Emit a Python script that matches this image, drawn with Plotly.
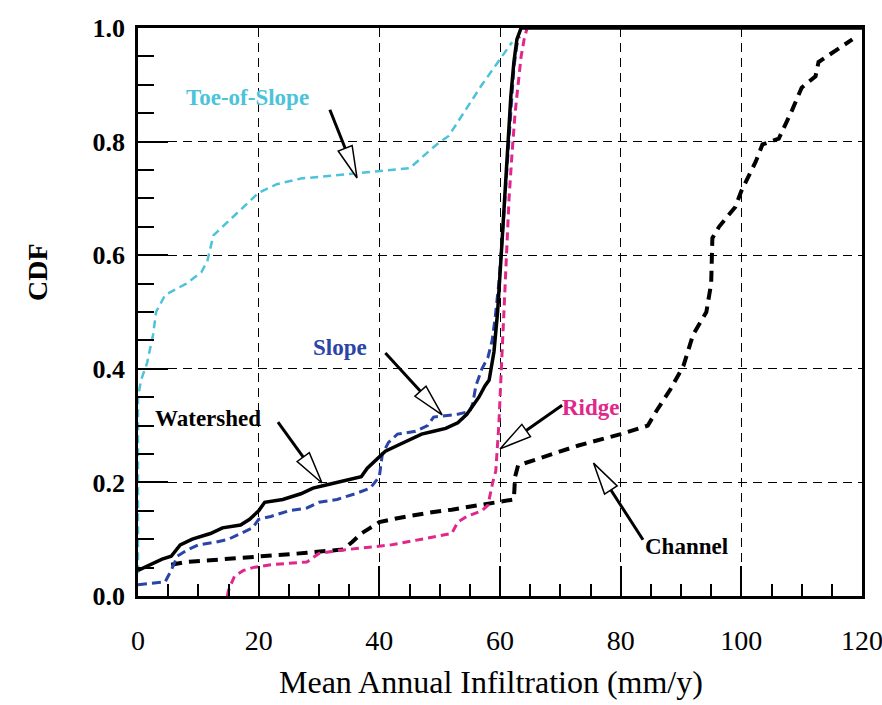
import math
import plotly.graph_objects as go

# ---------------- data ----------------
watershed_x = [0, 2, 4, 5.5, 7, 9, 12, 14, 17, 18.5, 20, 21, 24, 27, 29, 31, 33, 35, 37, 38, 39.5,
               41, 43, 45, 47, 49, 51, 53, 54.5, 55.5, 56.5, 57.5, 58.2, 59, 59.6, 60.2, 60.8,
               61.3, 61.8, 62.3, 62.8, 63.5, 120]
watershed_y = [0.045, 0.055, 0.065, 0.07, 0.09, 0.10, 0.11, 0.12, 0.125, 0.135, 0.15, 0.165, 0.17,
               0.18, 0.19, 0.195, 0.20, 0.205, 0.21, 0.225, 0.24, 0.255, 0.265, 0.275, 0.285, 0.29,
               0.295, 0.305, 0.32, 0.335, 0.35, 0.37, 0.38, 0.43, 0.5, 0.6, 0.7, 0.8, 0.88, 0.94,
               0.98, 1.0, 1.0]

slope_x = [0, 4.5, 5.5, 6.5, 8, 10, 13, 15, 17, 19, 20, 22, 25, 28, 30, 33, 36, 38.5, 40, 40.5,
           41.5, 43, 46, 48, 49, 53, 55, 55.5, 56, 57, 58, 58.7, 59.2, 59.8, 60.3, 60.8, 61.3,
           61.8, 62.3, 62.8, 63.2]
slope_y = [0.02, 0.025, 0.045, 0.07, 0.08, 0.09, 0.095, 0.10, 0.11, 0.12, 0.135, 0.14, 0.15, 0.155,
           0.165, 0.17, 0.18, 0.19, 0.21, 0.25, 0.27, 0.285, 0.29, 0.30, 0.315, 0.32, 0.325, 0.34,
           0.37, 0.40, 0.42, 0.45, 0.49, 0.55, 0.62, 0.70, 0.78, 0.86, 0.93, 0.97, 0.985]

ridge_x = [14.8, 15, 16, 17.5, 19, 22, 28, 30, 33, 38, 42, 47, 52, 53, 54.5, 57, 58, 58.8, 59.3,
           59.8, 60.2, 60.6, 61, 61.5, 62, 62.5, 63, 63.5, 64, 64.5]
ridge_y = [0.0, 0.01, 0.035, 0.045, 0.05, 0.055, 0.06, 0.075, 0.08, 0.085, 0.09, 0.10, 0.11, 0.13,
           0.14, 0.15, 0.16, 0.20, 0.22, 0.30, 0.40, 0.50, 0.60, 0.70, 0.78, 0.85, 0.90, 0.95,
           0.98, 1.0]

toe_x = [0, 0, 0.5, 1.5, 2.5, 3, 4.5, 8, 10.5, 11.5, 12.5, 15, 18, 20, 23, 27, 35, 45, 49.5,
         51.5, 57, 62]
toe_y = [0.04, 0.35, 0.38, 0.41, 0.46, 0.50, 0.53, 0.55, 0.57, 0.59, 0.635, 0.66, 0.69, 0.71,
         0.725, 0.735, 0.743, 0.753, 0.795, 0.81, 0.90, 0.975]

channel_x = [5.5, 8, 12, 16, 20, 24, 28, 32, 34, 35.5, 37, 38.5, 40, 43, 46, 49, 52, 55, 58, 61,
             62.3, 62.5, 63, 73, 80, 84.5, 86, 88.2, 90.4, 92, 94.2, 95, 95.2, 96.3, 99, 100,
             102.4, 103.5, 106.2, 108.4, 110, 112.3, 112.8, 118.4]
channel_y = [0.055, 0.06, 0.063, 0.066, 0.07, 0.072, 0.076, 0.08, 0.082, 0.095, 0.11, 0.12, 0.13,
             0.137, 0.143, 0.148, 0.152, 0.157, 0.162, 0.168, 0.17, 0.21, 0.23, 0.265, 0.285,
             0.30, 0.327, 0.363, 0.405, 0.46, 0.50, 0.55, 0.63, 0.65, 0.685, 0.713, 0.765, 0.795,
             0.805, 0.855, 0.895, 0.915, 0.94, 0.98]

x_ticks = [0, 20, 40, 60, 80, 100, 120]
y_ticks = [0.0, 0.2, 0.4, 0.6, 0.8, 1.0]

# curve labels: text, x, y, colour
label_text = ["Toe-of-Slope", "Slope", "Watershed", "Ridge", "Channel"]
label_x = [18.1, 33.5, 11.6, 75.1, 90.9]
label_y = [0.877, 0.438, 0.313, 0.331, 0.088]
label_color = ["#4cc3d9", "#2a44a8", "#000000", "#e0288c", "#000000"]

# arrows: tail -> tip
arrow_tail_x = [31.8, 41.0, 23.2, 70.3, 83.7]
arrow_tail_y = [0.856, 0.428, 0.306, 0.336, 0.099]
arrow_tip_x = [36.3, 50.4, 30.5, 60.0, 75.5]
arrow_tip_y = [0.736, 0.319, 0.199, 0.259, 0.234]

# ---------------- layout geometry ----------------
W, H = 882, 705
ML, MR, MT, MB = 138, 20, 28, 109
PW, PH = W - ML - MR, H - MT - MB
XR, YR = (0, 120), (0, 1)

FONT = "Liberation Serif, Times New Roman, serif"

fig = go.Figure()

fig.add_trace(go.Scatter(x=channel_x, y=channel_y, mode="lines", name="Channel",
                         line=dict(color="black", width=4, dash="11px,7px")))
fig.add_trace(go.Scatter(x=ridge_x, y=ridge_y, mode="lines", name="Ridge",
                         line=dict(color="#e0288c", width=3, dash="8px,5px")))
fig.add_trace(go.Scatter(x=toe_x, y=toe_y, mode="lines", name="Toe-of-Slope",
                         line=dict(color="#4cc3d9", width=2.5, dash="8px,5px")))
fig.add_trace(go.Scatter(x=slope_x, y=slope_y, mode="lines", name="Slope",
                         line=dict(color="#2a44a8", width=3, dash="9px,5px")))
fig.add_trace(go.Scatter(x=watershed_x, y=watershed_y, mode="lines", name="Watershed",
                         line=dict(color="black", width=3.5)))


def to_px(x, y):
    return (ML + (x - XR[0]) / (XR[1] - XR[0]) * PW,
            MT + (1 - (y - YR[0]) / (YR[1] - YR[0])) * PH)


def to_data(px, py):
    return (XR[0] + (px - ML) / PW * (XR[1] - XR[0]),
            YR[0] + (1 - (py - MT) / PH) * (YR[1] - YR[0]))


shapes = []
HEAD_L, HEAD_W = 32, 7.5
for tx, ty, hx, hy in zip(arrow_tail_x, arrow_tail_y, arrow_tip_x, arrow_tip_y):
    t = to_px(tx, ty)
    p = to_px(hx, hy)
    dx, dy = p[0] - t[0], p[1] - t[1]
    n = math.hypot(dx, dy)
    ux, uy = dx / n, dy / n
    bx, by = p[0] - ux * HEAD_L, p[1] - uy * HEAD_L
    nx, ny = -uy, ux
    b_d = to_data(bx, by)
    shapes.append(dict(type="line", xref="x", yref="y", x0=tx, y0=ty, x1=b_d[0], y1=b_d[1],
                       line=dict(color="black", width=3)))
    c1 = to_data(bx + nx * HEAD_W, by + ny * HEAD_W)
    c2 = to_data(bx - nx * HEAD_W, by - ny * HEAD_W)
    path = "M {} {} L {} {} L {} {} Z".format(hx, hy, c1[0], c1[1], c2[0], c2[1])
    shapes.append(dict(type="path", xref="x", yref="y", path=path, fillcolor="white",
                       line=dict(color="black", width=1.5)))

annotations = []
for txt, x, y, c in zip(label_text, label_x, label_y, label_color):
    annotations.append(dict(x=x, y=y, xref="x", yref="y", text=txt, showarrow=False,
                            font=dict(family=FONT, size=23, color=c, weight="bold"),
                            xanchor="center", yanchor="middle"))

annotations.append(dict(x=(37 - ML) / PW, y=(MT + PH - 272) / PH, xref="paper", yref="paper",
                        text="CDF", textangle=-90, showarrow=False,
                        font=dict(family=FONT, size=28, color="black", weight="bold"),
                        xanchor="center", yanchor="middle"))
annotations.append(dict(x=(491 - ML) / PW, y=(MT + PH - 682) / PH, xref="paper", yref="paper",
                        text="Mean Annual Infiltration (mm/y)", showarrow=False,
                        font=dict(family=FONT, size=32, color="black"),
                        xanchor="center", yanchor="middle"))

fig.update_layout(
    width=W, height=H,
    margin=dict(l=ML, r=MR, t=MT, b=MB, pad=0, autoexpand=False),
    paper_bgcolor="white", plot_bgcolor="white",
    showlegend=False,
    shapes=shapes,
    annotations=annotations,
    font=dict(family=FONT, color="black"),
)

fig.update_xaxes(
    range=list(XR), tickvals=x_ticks, ticktext=[str(v) for v in x_ticks],
    ticks="inside", ticklen=30, tickwidth=1.5, tickcolor="black",
    showline=True, linecolor="black", linewidth=2.5, mirror=True,
    showgrid=True, gridcolor="black", gridwidth=1.3, griddash="9px,6px",
    zeroline=False, ticklabelstandoff=18, automargin=False, ticklabeloverflow="allow",
    tickfont=dict(family=FONT, size=28, color="black"),
    minor=dict(dtick=5, ticks="inside", ticklen=12, tickwidth=1.5, tickcolor="black", showgrid=False),
)
fig.update_yaxes(
    range=list(YR), tickvals=y_ticks, ticktext=["{:.1f}".format(v) for v in y_ticks],
    ticks="inside", ticklen=30, tickwidth=1.5, tickcolor="black",
    showline=True, linecolor="black", linewidth=2.5, mirror=True,
    showgrid=True, gridcolor="black", gridwidth=1.3, griddash="9px,6px",
    zeroline=False, ticklabelstandoff=5, automargin=False, ticklabeloverflow="allow",
    tickfont=dict(family=FONT, size=26, color="black", weight="bold"),
    minor=dict(dtick=0.05, ticks="inside", ticklen=16, tickwidth=1.5, tickcolor="black", showgrid=False),
)

fig.write_html("out.html", config={"displayModeBar": False},
               post_script="document.body.style.margin='0';")
